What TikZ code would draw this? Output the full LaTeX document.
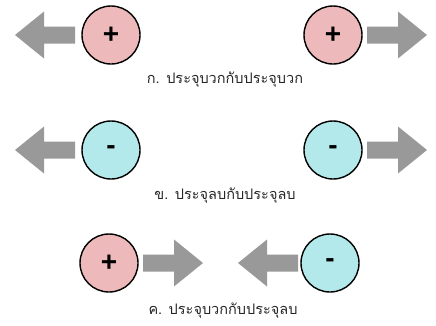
\documentclass[tikz,border=0pt]{standalone}
\usepackage{fontspec}
\setmainfont{Liberation Sans}
\newfontfamily\thaifont[Script=Thai]{Loma}
\definecolor{posred}{HTML}{EDB9BA}
\definecolor{negcyan}{HTML}{B4E9EB}
\definecolor{arrowgray}{HTML}{999999}

\tikzset{
  charge/.style={circle, draw=black, line width=1.4pt, minimum size=58pt, inner sep=0pt, font=\bfseries\fontsize{28}{28}\selectfont},
  poscharge/.style={charge, fill=posred},
  negcharge/.style={charge, fill=negcyan},
  caption/.style={font=\thaifont\fontsize{14.5}{16}\selectfont, text=black!85},
  pics/push/.style={code={
    \fill[arrowgray] (0,-8.5) -- (31,-8.5) -- (31,-23.5) -- (60,0) -- (31,23.5) -- (31,8.5) -- (0,8.5) -- cycle;
  }}
}

\begin{document}
\begin{tikzpicture}[x=1pt, y=-1pt]

    \useasboundingbox (0,0) rectangle (436,325);

    % ก. like charges (+,+)
    \node[poscharge] (a1) at (111, 35) {+};
    \node[poscharge] (a2) at (333, 35) {+};
    \pic[xscale=-1] at (75, 35) {push};
    \pic at (367, 35) {push};
    \node[caption] (ta) at (225, 80) {ก. ประจุบวกกับประจุบวก};

    % ข. like charges (-,-)
    \node[negcharge] (b1) at (111, 150) {-};
    \node[negcharge] (b2) at (333, 150) {-};
    \pic[xscale=-1] at (75, 150) {push};
    \pic at (367, 150) {push};
    \node[caption] (tb) at (225, 196) {ข. ประจุลบกับประจุลบ};

    % ค. unlike charges (+,-)
    \node[poscharge] (c1) at (109, 263) {+};
    \node[negcharge] (c2) at (330, 263) {-};
    \pic at (143, 263) {push};
    \pic[xscale=-1] at (298, 263) {push};
    \node[caption] (tc) at (223, 311) {ค. ประจุบวกกับประจุลบ};

\end{tikzpicture}
\end{document}
